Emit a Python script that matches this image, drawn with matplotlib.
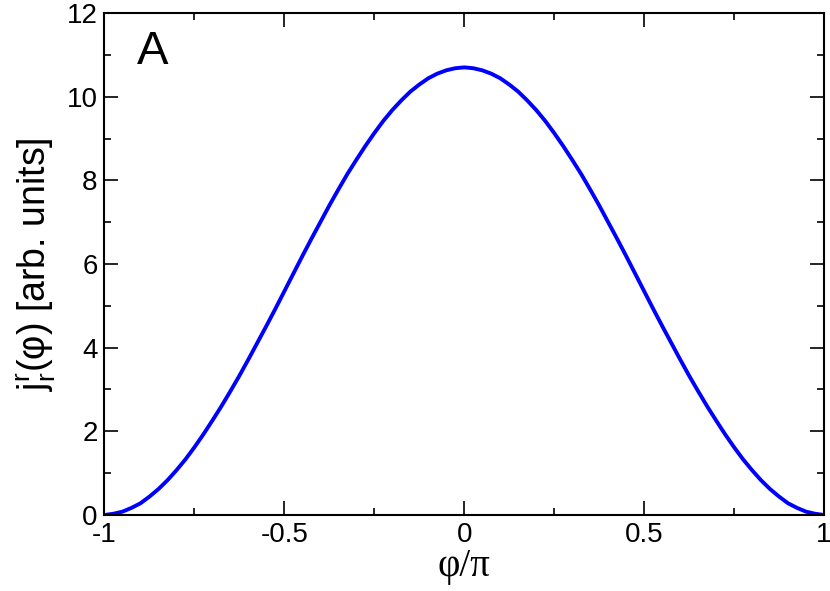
import numpy as np
import matplotlib.pyplot as plt
from matplotlib.ticker import MultipleLocator

phi = np.round(np.arange(-40, 41) * 0.025, 3)
j_r = [0.0, 0.03, 0.08, 0.17, 0.28, 0.44, 0.62, 0.83, 1.07, 1.33,
       1.62, 1.93, 2.26, 2.60, 2.96, 3.33, 3.72, 4.12, 4.52, 4.93,
       5.35, 5.77, 6.19, 6.60, 7.00, 7.40, 7.78, 8.15, 8.49, 8.82,
       9.13, 9.42, 9.68, 9.91, 10.12, 10.29, 10.44, 10.55, 10.63, 10.68,
       10.70,
       10.68, 10.63, 10.55, 10.44, 10.29, 10.12, 9.91, 9.68, 9.42, 9.13,
       8.82, 8.49, 8.15, 7.78, 7.40, 7.00, 6.60, 6.19, 5.77, 5.35,
       4.93, 4.52, 4.12, 3.72, 3.33, 2.96, 2.60, 2.26, 1.93, 1.62,
       1.33, 1.07, 0.83, 0.62, 0.44, 0.28, 0.17, 0.08, 0.03, 0.0]

plt.rcParams['font.family'] = ['Liberation Sans', 'DejaVu Sans']
plt.rcParams['axes.unicode_minus'] = False
plt.rcParams['mathtext.fontset'] = 'custom'
plt.rcParams['mathtext.rm'] = 'Liberation Sans'

fig = plt.figure(figsize=(8.3, 5.91), dpi=100)
ax = fig.add_axes([0.1259, 0.1286, 0.8669, 0.8494])

ax.plot(phi, j_r, color='#0000ff', lw=2.8, solid_capstyle='butt')

ax.set_xlim(-1, 1)
ax.set_ylim(0, 12)
ax.xaxis.set_minor_locator(MultipleLocator(0.25))
ax.yaxis.set_major_locator(MultipleLocator(2))
ax.yaxis.set_minor_locator(MultipleLocator(1))
ax.set_xticks([-1, -0.5, 0, 0.5, 1])
ax.set_xticklabels(['-1', '-0.5', '0', '0.5', '1'])

ax.tick_params(which='both', direction='in', top=True, right=True,
               labelsize=20, width=1.2)
ax.tick_params(which='major', length=10, pad=5)
ax.tick_params(which='minor', length=5)
for s in ax.spines.values():
    s.set_linewidth(1.5)

ax.set_xlabel('φ/π', family=['Liberation Serif', 'DejaVu Serif'], fontsize=28, labelpad=0)
ax.set_ylabel(r'j$_{\mathregular{r}}^{\mathregular{r}}$(φ) [arb. units]', fontsize=27, labelpad=6)
ax.text(0.045, 0.966, 'A', transform=ax.transAxes, fontsize=34, va='top', ha='left')

plt.savefig('out.png', dpi=100)
